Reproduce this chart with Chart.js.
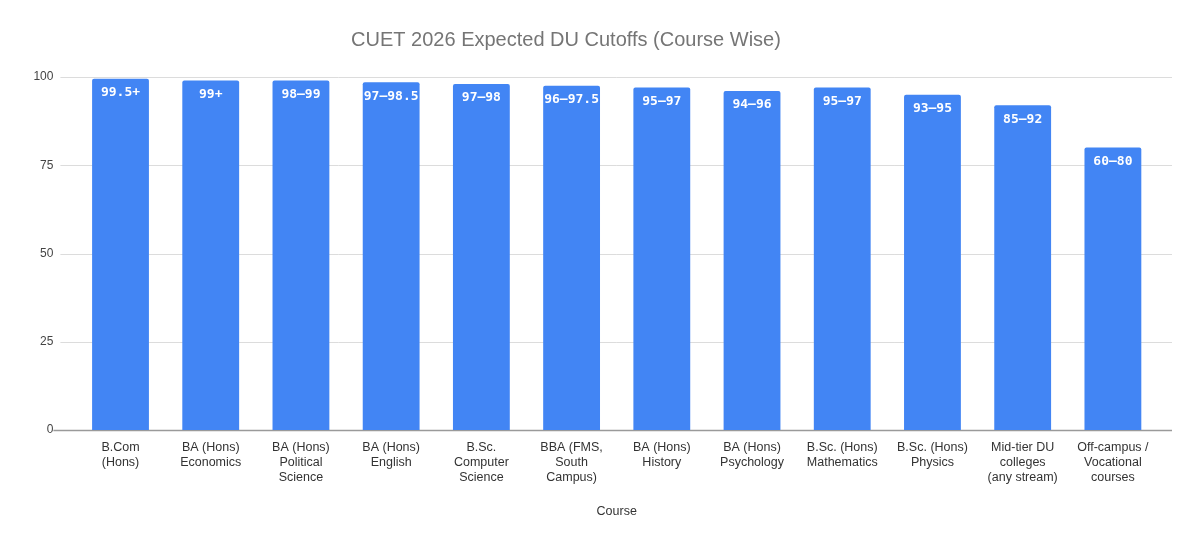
<!DOCTYPE html>
<html>
<head>
<meta charset="utf-8">
<script src="https://cdn.jsdelivr.net/npm/chart.js@4.4.1/dist/chart.umd.min.js"></script>
<style>
html,body{margin:0;padding:0;background:#fff;}
#wrap{width:1200px;height:546px;position:relative;}
</style>
</head>
<body>
<div id="wrap"><canvas id="c" width="1200" height="546"></canvas></div>
<script>
const chartTitle = "CUET 2026 Expected DU Cutoffs (Course Wise)";
const xAxisTitle = "Course";
const categories = [
  ["B.Com", "(Hons)"],
  ["BA (Hons)", "Economics"],
  ["BA (Hons)", "Political", "Science"],
  ["BA (Hons)", "English"],
  ["B.Sc.", "Computer", "Science"],
  ["BBA (FMS,", "South", "Campus)"],
  ["BA (Hons)", "History"],
  ["BA (Hons)", "Psychology"],
  ["B.Sc. (Hons)", "Mathematics"],
  ["B.Sc. (Hons)", "Physics"],
  ["Mid-tier DU", "colleges", "(any stream)"],
  ["Off-campus /", "Vocational", "courses"]
];
const cutoffValues = [99.5, 99, 99, 98.5, 98, 97.5, 97, 96, 97, 95, 92, 80];
const cutoffLabels = ["99.5+", "99+", "98–99", "97–98.5", "97–98", "96–97.5", "95–97", "94–96", "95–97", "93–95", "85–92", "60–80"];
const yTicks = [0, 25, 50, 75, 100];

const gridPlugin = {
  id: 'extGrid',
  beforeDatasetsDraw(chart) {
    const ctx = chart.ctx, y = chart.scales.y, a = chart.chartArea;
    ctx.save();
    yTicks.forEach(v => {
      const py = Math.round(y.getPixelForValue(v)) + 0.5;
      ctx.beginPath();
      if (v === 0) {
        ctx.strokeStyle = '#9a9a9a'; ctx.lineWidth = 1.5;
        ctx.moveTo(a.left - 22, py); ctx.lineTo(a.right + 14, py);
      } else {
        ctx.strokeStyle = '#dcdcdc'; ctx.lineWidth = 1;
        ctx.moveTo(a.left - 15, py); ctx.lineTo(a.right + 14, py);
      }
      ctx.stroke();
    });
    ctx.restore();
  }
};

const labelPlugin = {
  id: 'barLabels',
  afterDatasetsDraw(chart) {
    const ctx = chart.ctx;
    const meta = chart.getDatasetMeta(0);
    ctx.save();
    ctx.fillStyle = '#ffffff';
    ctx.font = 'bold 13px "DejaVu Sans Mono", monospace';
    ctx.textAlign = 'center';
    ctx.textBaseline = 'middle';
    meta.data.forEach((bar, i) => {
      ctx.fillText(cutoffLabels[i], bar.x, bar.y + 14);
    });
    ctx.restore();
  }
};

const titlePlugin = {
  id: 'customTitle',
  afterDraw(chart) {
    const ctx = chart.ctx;
    ctx.save();
    ctx.fillStyle = '#757575';
    ctx.font = '20px "Liberation Sans", Arial, sans-serif';
    ctx.textAlign = 'center';
    ctx.textBaseline = 'middle';
    ctx.fillText(chartTitle, 566, 40);
    ctx.restore();
  }
};

new Chart(document.getElementById('c'), {
  type: 'bar',
  data: {
    labels: categories,
    datasets: [{
      data: cutoffValues,
      backgroundColor: '#4285f4',
      borderRadius: 2,
      borderSkipped: 'bottom',
      barPercentage: 0.63,
      categoryPercentage: 1.0
    }]
  },
  options: {
    responsive: false,
    animation: false,
    devicePixelRatio: 1,
    layout: { padding: { top: 77, right: 42, bottom: 23, left: 0 } },
    plugins: {
      legend: { display: false },
      title: { display: false },
      tooltip: { enabled: false }
    },
    scales: {
      x: {
        grid: { display: false, drawTicks: false },
        border: { display: false },
        ticks: {
          color: '#333333',
          font: { family: '"Liberation Sans", Arial, sans-serif', size: 12.5, lineHeight: 1.2 },
          padding: 10,
          maxRotation: 0,
          autoSkip: false
        },
        title: {
          display: true,
          text: xAxisTitle,
          color: '#333333',
          font: { family: '"Liberation Sans", Arial, sans-serif', size: 12.5 },
          padding: { top: 4, bottom: 4 }
        },
        afterFit(scale) { scale.height = 93; }
      },
      y: {
        min: 0,
        max: 100,
        afterBuildTicks(scale) { scale.ticks = yTicks.map(v => ({ value: v })); },
        grid: { display: false, drawTicks: false },
        border: { display: false },
        ticks: {
          color: '#444444',
          font: { family: '"Liberation Sans", Arial, sans-serif', size: 12 },
          padding: 22
        },
        afterFit(scale) { scale.width = 75.4; }
      }
    }
  },
  plugins: [gridPlugin, labelPlugin, titlePlugin]
});
</script>
</body>
</html>
